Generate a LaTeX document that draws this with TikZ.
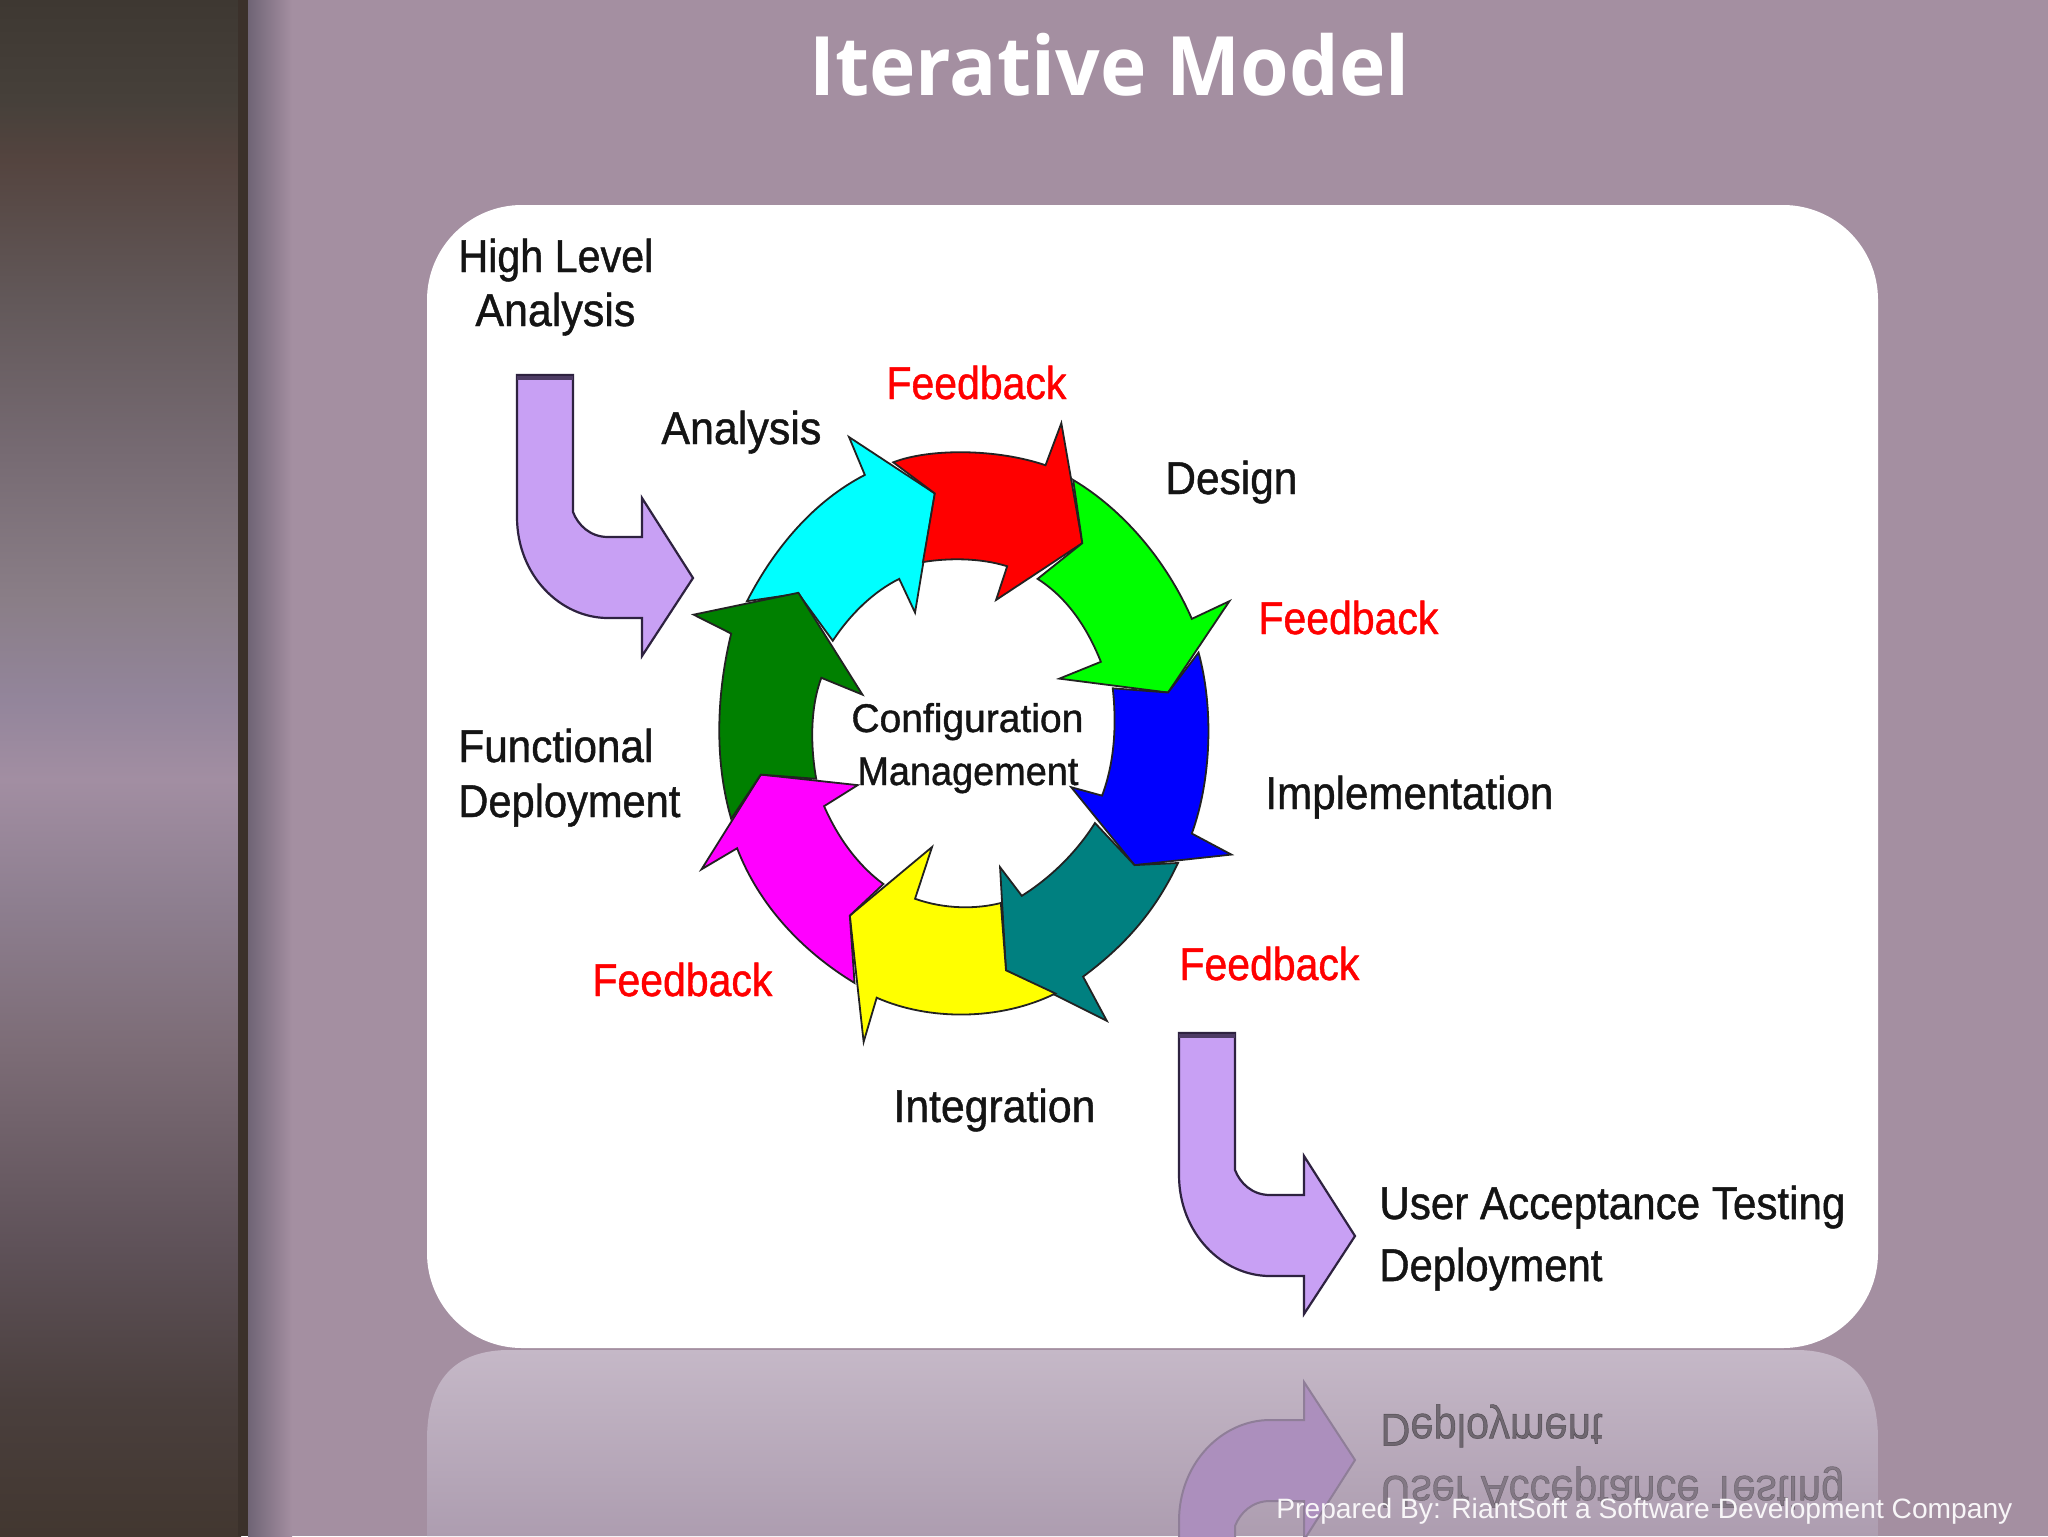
\documentclass[tikz,border=0pt]{standalone}
\usepackage{fontspec}
\usepackage{graphicx}
\setmainfont{Liberation Sans}[FakeBold=1.0]
\newfontfamily\footfont{Liberation Sans}
\newfontfamily\titlefont{Open Sans}[BoldFont={Open Sans Bold}]
\definecolor{bgc}{HTML}{A48FA1}
\definecolor{s0}{HTML}{3E3832}\definecolor{s1}{HTML}{46403A}\definecolor{s2}{HTML}{54443F}
\definecolor{s3}{HTML}{625859}\definecolor{s4}{HTML}{766A72}\definecolor{s5}{HTML}{8A7E87}
\definecolor{s6}{HTML}{93859B}\definecolor{s7}{HTML}{A28EA2}\definecolor{s8}{HTML}{8E7F90}
\definecolor{s9}{HTML}{7C6C76}\definecolor{s10}{HTML}{5E5158}\definecolor{s11}{HTML}{4A3F3D}
\definecolor{s12}{HTML}{423730}
\definecolor{shd}{HTML}{6F6475}
\definecolor{refltop}{HTML}{C5B8C7}\definecolor{reflbot}{HTML}{AD9DB0}
\definecolor{lav}{HTML}{C8A0F4}
\definecolor{lavline}{HTML}{2E2240}
\definecolor{lavrefl}{HTML}{AC8FBD}
\definecolor{lavreflline}{HTML}{8F7E98}
\definecolor{inkc}{HTML}{141414}
\definecolor{outl}{HTML}{222222}
\definecolor{rcyan}{RGB}{0,255,255}\definecolor{rred}{RGB}{255,0,0}\definecolor{rgreen}{RGB}{0,255,0}
\definecolor{rblue}{RGB}{0,0,255}\definecolor{rteal}{RGB}{0,128,128}\definecolor{ryellow}{RGB}{255,255,0}
\definecolor{rmagenta}{RGB}{255,0,255}\definecolor{rdark}{RGB}{0,128,0}
\pgfdeclareverticalshading{stripbar}{100bp}{color(0bp)=(s12);color(25bp)=(s12);color(29.43bp)=(s11);color(34.31bp)=(s10);color(40.82bp)=(s9);color(45.7bp)=(s8);color(49.61bp)=(s7);color(52.21bp)=(s6);color(55.47bp)=(s5);color(60.35bp)=(s4);color(65.23bp)=(s3);color(69.79bp)=(s2);color(71.74bp)=(s1);color(75bp)=(s0);color(100bp)=(s0)}
\pgfdeclarehorizontalshading{stripshadow}{100bp}{color(0bp)=(shd);color(25bp)=(shd);color(75bp)=(bgc);color(100bp)=(bgc)}
\pgfdeclareverticalshading{reflcard}{100bp}{color(0bp)=(reflbot);color(25bp)=(reflbot);color(75bp)=(refltop);color(100bp)=(refltop)}
\newsavebox\fitbox
\newlength\fitlen
\newcommand{\fitw}[2]{\sbox\fitbox{#2}\setlength\fitlen{\wd\fitbox}\pgfmathsetmacro\fitr{#1*0.5/\fitlen}\scalebox{\fitr}[1]{\usebox\fitbox}}
% colour, name, left x, baseline y, width, text
\newcommand{\lbl}[6]{\node[labeltext,text=#1] (#2) at (#3,#4) {\fitw{#5}{#6}};}
\newcommand{\lavpath}{(517,375) -- (573,375) -- (573,512) .. controls (578,525) and (590,537) .. (608,537) -- (642,537) -- (642,498) -- (693,578) -- (642,656) -- (642,618) -- (608,618) .. controls (560,618) and (517,575) .. (517,517) -- cycle}
\tikzset{
  labeltext/.style={anchor=base west,inner sep=0pt,font=\fontsize{23}{26}\selectfont},
  ringarrow/.style={draw=outl,line width=0.9pt,line join=miter},
  lavarrow/.style={fill=lav,draw=lavline,line width=1.1pt,line join=miter},
  lavtop/.style={draw=lavline!80!lav,line width=2.4pt},
}
\begin{document}
\begin{tikzpicture}[x=0.5pt,y=-0.5pt]
\useasboundingbox (0,0) rectangle (2048,1536);
\clip (0,0) rectangle (2048,1536);
% background
\fill[bgc] (0,0) rectangle (2048,1536);
\shade[shading=stripshadow] (248,0) rectangle (292,1536);
\shade[shading=stripbar] (0,0) rectangle (241,1536);
\fill[s12!90!black] (238,0) rectangle (248,1536);
% reflection of the card
\shade[shading=reflcard] (427,1536) -- (427,1440) .. controls (427,1385) and (450,1352) .. (505,1350) -- (1800,1350) .. controls (1855,1352) and (1878,1385) .. (1878,1440) -- (1878,1536) -- cycle;
\begin{scope}[yshift=-1348pt,yscale=-1,every node/.append style={transform shape}]
  \begin{scope}[shift={(662,658)}]
    \path[fill=lavrefl,draw=lavreflline,line width=1pt] \lavpath;
  \end{scope}
  \begin{scope}[every node/.append style={opacity=.3}]
  \lbl{inkc}{reflUAT}{1380}{1220}{464}{User Acceptance Testing}
  \end{scope}
  \begin{scope}[every node/.append style={opacity=.45}]
  \lbl{inkc}{reflDep}{1380}{1282}{222}{Deployment}
  \end{scope}
\end{scope}
% card
\fill[white,rounded corners=47.5pt] (427,205) rectangle (1878,1348);
% lavender arrows
\path[lavarrow] \lavpath;
\draw[lavtop] (517,378) -- (573,378);
\begin{scope}[shift={(662,658)}]
  \path[lavarrow] \lavpath;
  \draw[lavtop] (517,378) -- (573,378);
\end{scope}
% ring
\begin{scope}[shift={(660,400)},xscale=0.3954,yscale=0.4209]
\path[ringarrow,fill=rcyan] (220,478) .. controls (290,350) and (390,240) .. (518,178) -- (478,88) -- (695,222) -- (645,505) -- (605,425) .. controls (540,455) and (480,510) .. (437,572) -- (350,460) -- cycle;
\path[ringarrow,fill=rred] (590,148) .. controls (680,115) and (850,115) .. (975,155) -- (1015,55) -- (1068,340) -- (850,475) -- (878,395) .. controls (810,375) and (730,375) .. (665,385) -- (695,222) -- cycle;
\path[ringarrow,fill=rgreen] (1045,190) .. controls (1170,260) and (1280,380) .. (1345,520) -- (1440,478) -- (1285,695) -- (1010,662) -- (1115,622) .. controls (1080,540) and (1030,470) .. (955,425) -- (1068,340) -- cycle;
\path[ringarrow,fill=rblue] (1362,600) .. controls (1400,730) and (1395,900) .. (1345,1030) -- (1445,1080) -- (1200,1105) -- (1040,920) -- (1118,940) .. controls (1150,860) and (1155,770) .. (1145,685) -- (1285,695) -- cycle;
\path[ringarrow,fill=rteal] (1310,1100) .. controls (1250,1220) and (1170,1300) .. (1070,1370) -- (1130,1475) -- (875,1355) -- (860,1110) -- (915,1178) .. controls (980,1140) and (1050,1080) .. (1100,1005) -- (1200,1105) -- cycle;
\path[ringarrow,fill=ryellow] (1000,1410) .. controls (860,1475) and (680,1475) .. (548,1420) -- (515,1525) -- (480,1225) -- (688,1062) -- (645,1185) .. controls (720,1210) and (800,1210) .. (862,1195) -- (875,1355) -- cycle;
\path[ringarrow,fill=rmagenta] (492,1385) .. controls (360,1310) and (250,1200) .. (195,1065) -- (105,1115) -- (255,890) -- (500,915) -- (415,965) .. controls (450,1040) and (500,1105) .. (565,1150) -- (480,1225) -- cycle;
\path[ringarrow,fill=rdark] (180,995) .. controls (135,850) and (145,690) .. (180,555) -- (85,510) -- (350,458) -- (512,700) -- (408,660) .. controls (380,730) and (380,820) .. (395,900) -- (255,890) -- cycle;
\end{scope}
% labels
\lbl{inkc}{hl}{458}{272}{195}{High Level}
\lbl{inkc}{ha}{475}{326}{160}{Analysis}
\lbl{inkc}{an}{661}{444}{160}{Analysis}
\lbl{rred}{fb1}{886}{399}{180}{Feedback}
\lbl{inkc}{de}{1165}{494}{132}{Design}
\lbl{rred}{fb2}{1258}{634}{180}{Feedback}
\lbl{inkc}{im}{1265}{809}{288}{Implementation}
\lbl{inkc}{fu}{458}{762}{195}{Functional}
\lbl{inkc}{dp}{458}{817}{222}{Deployment}
\lbl{rred}{fb3}{1179}{980}{180}{Feedback}
\lbl{rred}{fb4}{592}{996}{180}{Feedback}
\lbl{inkc}{in}{893}{1122}{202}{Integration}
\lbl{inkc}{ua}{1379}{1219}{466}{User Acceptance Testing}
\lbl{inkc}{dd}{1379}{1281}{223}{Deployment}
\lbl{inkc}{cf}{851}{732}{232}{\fontsize{20}{24}\selectfont Configuration}
\lbl{inkc}{mg}{857}{785}{221}{\fontsize{20}{24}\selectfont Management}
% title and footer
\node[anchor=base west,inner sep=0pt,text=white,font=\titlefont\bfseries\fontsize{41}{46}\selectfont] (title) at (809,96) {\fitw{600}{Iterative Model}};
\node[anchor=base west,inner sep=0pt,text=white!92!bgc,font=\footfont\fontsize{14}{17}\selectfont] (foot) at (1276,1518) {\fitw{736}{Prepared By: RiantSoft a Software Development Company}};
\end{tikzpicture}
\end{document}
